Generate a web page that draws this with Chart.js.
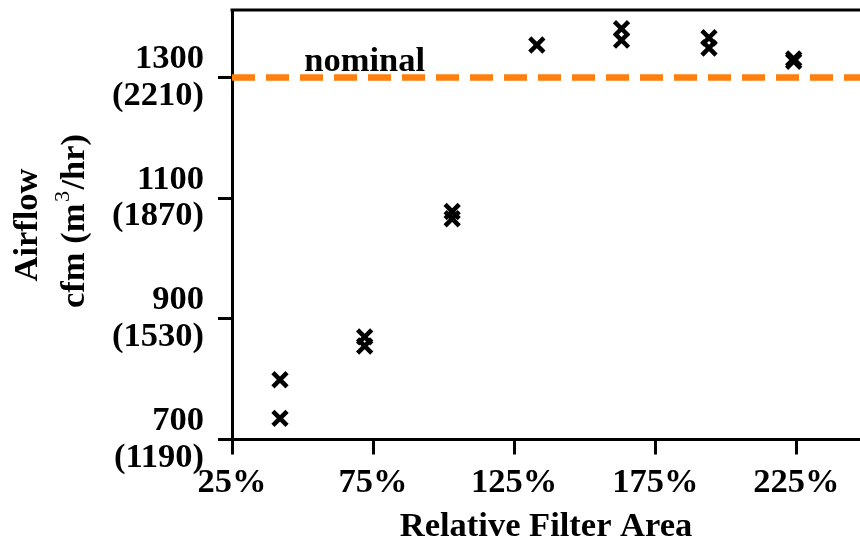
<!DOCTYPE html>
<html>
<head>
<meta charset="utf-8">
<script src="https://cdn.jsdelivr.net/npm/chart.js@4/dist/chart.umd.min.js"></script>
<style>
  html, body { margin: 0; padding: 0; background: #fff; }
  #wrap { width: 860px; height: 546px; position: relative; }
</style>
</head>
<body>
<div id="wrap"><canvas id="airflowChart"></canvas></div>
<script>
// measured points (relative filter area %, airflow cfm)
const filterArea = [42, 42, 72, 72, 103, 103, 133, 163, 163, 194, 194, 224, 224];
const airflowCfm = [799, 735, 870, 855, 1078, 1066, 1354, 1381, 1362, 1366, 1349, 1331, 1327];

// nominal airflow line
const nominalCfm = 1300;
const nominalLabel = 'nominal';
const nominalLabelAt = 72; // % position of the label centre

// axes
const xTicks = [25, 75, 125, 175, 225];
const yTickCfm = [700, 900, 1100, 1300];
const yTickM3h = [1190, 1530, 1870, 2210];
const xRange = [25, 247.5];
const yRange = [700, 1412];

const FONT = "'Liberation Serif', 'Times New Roman', serif";
const SIZE = 34.5;
Chart.defaults.color = '#000';
Chart.defaults.font.family = FONT;

// top frame line, nominal text and the two-line y title
const decorations = {
    id: 'decorations',
    afterDraw(chart) {
        const ctx = chart.ctx;
        const area = chart.chartArea;
        const x = chart.scales.x;
        const y = chart.scales.y;
        ctx.save();

        ctx.strokeStyle = '#000';
        ctx.lineWidth = 3;
        ctx.beginPath();
        ctx.moveTo(area.left - 1.5, area.top);
        ctx.lineTo(area.right, area.top);
        ctx.stroke();

        ctx.fillStyle = '#000';
        ctx.font = 'bold ' + SIZE + 'px ' + FONT;
        ctx.textAlign = 'center';
        ctx.textBaseline = 'alphabetic';
        ctx.fillText(nominalLabel, x.getPixelForValue(nominalLabelAt), y.getPixelForValue(nominalCfm) - 7);

        // y title, rotated
        ctx.translate(37, 225);
        ctx.rotate(-Math.PI / 2);
        ctx.fillText('Airflow', 0, 0);
        ctx.rotate(Math.PI / 2);
        ctx.translate(-37, -225);

        ctx.translate(84, 221);
        ctx.rotate(-Math.PI / 2);
        const partA = 'cfm (m';
        const partB = '3';
        const partC = '/hr)';
        ctx.font = 'bold ' + SIZE + 'px ' + FONT;
        const wA = ctx.measureText(partA).width;
        const wC = ctx.measureText(partC).width;
        ctx.font = '22px ' + FONT;
        const wB = ctx.measureText(partB).width + 3;
        let cx = -(wA + wB + wC) / 2;
        ctx.textAlign = 'left';
        ctx.font = 'bold ' + SIZE + 'px ' + FONT;
        ctx.fillText(partA, cx, 0);
        cx += wA + 1.5;
        ctx.font = '22px ' + FONT;
        ctx.fillText(partB, cx, -15);
        cx += wB - 1.5;
        ctx.font = 'bold ' + SIZE + 'px ' + FONT;
        ctx.fillText(partC, cx, 0);

        ctx.restore();
    }
};

const points = filterArea.map((v, i) => ({ x: v, y: airflowCfm[i] }));

new Chart(document.getElementById('airflowChart'), {
    type: 'scatter',
    data: {
        datasets: [{
            type: 'line',
            data: [{ x: xRange[0], y: nominalCfm }, { x: xRange[1], y: nominalCfm }],
            borderColor: '#ff7f0e',
            borderWidth: 6.5,
            borderDash: [23, 11],
            pointRadius: 0,
            fill: false
        }, {
            data: points,
            pointStyle: 'crossRot',
            pointRadius: 10,
            pointBorderWidth: 4.5,
            borderColor: '#000',
            backgroundColor: '#000'
        }]
    },
    options: {
        responsive: true,
        maintainAspectRatio: false,
        animation: false,
        layout: { autoPadding: false, padding: { top: 10, right: 0, left: 0, bottom: 0 } },
        plugins: {
            legend: { display: false },
            tooltip: { enabled: false }
        },
        scales: {
            x: {
                type: 'linear',
                min: xRange[0],
                max: xRange[1],
                afterBuildTicks: s => { s.ticks = xTicks.map(v => ({ value: v })); },
                afterFit: s => { s.height = 106.5; s.paddingLeft = 0; s.paddingRight = 0; },
                border: { color: '#000', width: 3 },
                grid: { drawOnChartArea: false, tickLength: 15, tickWidth: 3, tickColor: '#000' },
                ticks: {
                    padding: 8,
                    maxRotation: 0,
                    font: { size: SIZE, weight: 'bold' },
                    callback: v => v + '%'
                },
                title: {
                    display: true,
                    text: 'Relative Filter Area',
                    font: { size: SIZE, weight: 'bold' },
                    padding: { top: 0, bottom: -2 }
                }
            },
            y: {
                type: 'linear',
                min: yRange[0],
                max: yRange[1],
                afterBuildTicks: s => { s.ticks = yTickCfm.map(v => ({ value: v })); },
                afterFit: s => { s.width = 232; s.paddingTop = 0; s.paddingBottom = 0; },
                border: { color: '#000', width: 3 },
                grid: { drawOnChartArea: false, tickLength: 14, tickWidth: 3, tickColor: '#000' },
                ticks: {
                    padding: 14,
                    font: { size: SIZE, weight: 'bold', lineHeight: 1.06 },
                    callback: v => {
                        const i = yTickCfm.indexOf(v);
                        return [String(v), '(' + yTickM3h[i] + ')'];
                    }
                }
            }
        }
    },
    plugins: [decorations]
});
</script>
</body>
</html>
